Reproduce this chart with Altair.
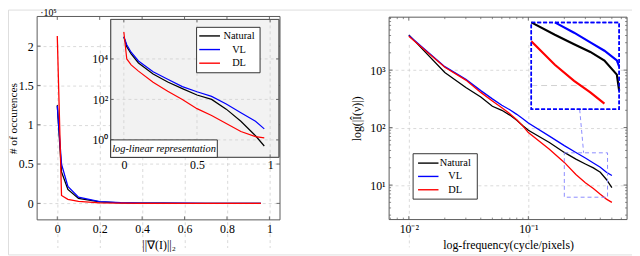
import altair as alt
import pandas as pd

# ---------------- data ----------------
SERIES = ["Natural", "VL", "DL"]
COLORS = ["#000000", "#0000ff", "#ff0000"]

# left panel: histogram of gradient norm (counts)
grad_x = [0, 0.02, 0.05, 0.1, 0.2, 0.3, 0.4, 0.5, 0.6, 0.7, 0.8, 0.9, 0.96]
grad_natural = [125000, 40000, 17800, 6300, 1820, 720, 340, 166, 100, 33, 8.3, 1.6, 0.5]
grad_vl = [124000, 50000, 21400, 7900, 2340, 1000, 430, 240, 141, 60, 22, 8.3, 3.5]
grad_dl = [213000, 10000, 5100, 2500, 710, 250, 100, 35, 16, 6.5, 2.6, 1.45, 1.25]

# right panel: amplitude spectrum
freq_x = [0.01, 0.02, 0.03, 0.04, 0.05, 0.06, 0.07, 0.08, 0.09, 0.1,
          0.15, 0.2, 0.25, 0.3, 0.35, 0.4, 0.45, 0.5]
freq_natural = [4100, 910, 500, 340, 235, 200, 165, 134, 108, 90,
                55, 37, 28.3, 23.3, 19.9, 16.7, 12.5, 9.0]
freq_vl = [4000, 1150, 690, 440, 316, 245, 204, 170, 143, 120,
           71, 48.6, 36.9, 29.5, 24.2, 20.4, 16.7, 14.7]
freq_dl = [3900, 1120, 670, 410, 290, 221, 174, 137, 106, 82,
           42, 24.8, 15.3, 11, 8.7, 6.9, 5.7, 5.0]

left_x_ticks = [0, 0.2, 0.4, 0.6, 0.8, 1]
left_y_ticks = [0, 50000, 100000, 150000, 200000]
inset_x_ticks = [0, 0.5, 1]
inset_y_ticks = [1, 100, 10000]
right_x_ticks = [0.01, 0.1]
right_y_ticks = [10, 100, 1000]
right_x_minor = [0.007, 0.008, 0.009, 0.02, 0.03, 0.04, 0.05, 0.06, 0.07, 0.08, 0.09,
                 0.2, 0.3, 0.4, 0.5, 0.6]
right_y_minor = [3, 4, 5, 6, 7, 8, 9, 20, 30, 40, 50, 60, 70, 80, 90,
                 200, 300, 400, 500, 600, 700, 800, 900, 2000, 3000, 4000, 5000, 6000, 7000, 8000]
spy_x = [0.2, 0.46]
spy_y = [6.15, 36.4]

# ---------------- tables ----------------
grad_df = pd.DataFrame({
    "g": grad_x * 3,
    "count": grad_natural + grad_vl + grad_dl,
    "series": [s for s in SERIES for _ in grad_x],
})
freq_df = pd.DataFrame({
    "f": freq_x * 3,
    "v": freq_natural + freq_vl + freq_dl,
    "series": [s for s in SERIES for _ in freq_x],
})
legend_df = pd.DataFrame({"series": SERIES})
spy_df = pd.DataFrame({"x0": [spy_x[0]], "x1": [spy_x[1]], "y0": [spy_y[0]], "y1": [spy_y[1]]})
spy_grid_df = pd.DataFrame({"v": [t for t in right_y_ticks if spy_y[0] <= t <= spy_y[1]]})
one = pd.DataFrame({"k": [0]})

# ---------------- layout (pixels in chart coords) ----------------
W, H = 632, 248
FONT = "Liberation Serif"
FRAME = "#595959"
GRID = "#d0d0d0"

LF = (29.5, 275.5, 7.0, 213.0)      # left main frame x0,x1,y0,y1
IF = (104.0, 274.5, 10.0, 149.7)    # inset frame
RF = (386.0, 627.0, 7.7, 212.7)     # right frame
MB = (530.0, 619.0, 13.0, 101.0)    # magnified box


def sc(**kw):
    return alt.Scale(nice=False, zero=False, **kw)


LX = sc(domain=[-0.095, 1.05], range=[LF[0], LF[1]])
LY = sc(domain=[-21000, 237700], range=[LF[3], LF[2]])
IX = sc(domain=[-0.0899, 1.0608], range=[IF[0], IF[1]])
IY = sc(type="log", domain=[0.137, 893000], range=[IF[3], IF[2]])
RX = sc(type="log", domain=[0.00684, 0.670], range=[RF[0], RF[1]])
RY = sc(type="log", domain=[2.51, 8340], range=[RF[3], RF[2]])
MX = sc(type="log", domain=spy_x, range=[MB[0], MB[1]], clamp=True)
MY = sc(type="log", domain=spy_y, range=[MB[3], MB[2]], clamp=True)

color_enc = alt.Color("series:N", scale=alt.Scale(domain=SERIES, range=COLORS), legend=None)

AX = dict(labelFont=FONT, labelFontSize=12, titleFont=FONT, titleFontSize=12,
          titleFontWeight="normal", labelColor="black", titleColor="black",
          ticks=False, tickSize=0, domain=False, labelFlush=False, labelOverlap=False,
          gridColor=GRID, gridDash=[3, 3], gridWidth=0.8)


def box(frame, fill=None, stroke=FRAME, width=1.0, dash=None):
    x0, x1, y0, y1 = frame
    kw = dict(stroke=stroke, strokeWidth=width)
    if fill is None:
        kw["fill"] = "white"
        kw["fillOpacity"] = 0
    else:
        kw["fill"] = fill
    if dash:
        kw["strokeDash"] = dash
    return alt.Chart(one).mark_rect(**kw).encode(
        x=alt.value(x0), x2=alt.value(x1), y=alt.value(y0), y2=alt.value(y1))


def frame_ticks(xvals, yvals, xs, ys, frame, length=3.5, width=0.9):
    x0, x1, y0, y1 = frame
    out = []
    xd = pd.DataFrame({"t": xvals})
    yd = pd.DataFrame({"t": yvals})
    for ya, yb in ((y1, y1 - length), (y0, y0 + length)):
        out.append(alt.Chart(xd).mark_rule(color=FRAME, strokeWidth=width).encode(
            x=alt.X("t:Q", scale=xs, axis=None), y=alt.value(ya), y2=alt.value(yb)))
    for xa, xb in ((x0, x0 + length), (x1, x1 - length)):
        out.append(alt.Chart(yd).mark_rule(color=FRAME, strokeWidth=width).encode(
            y=alt.Y("t:Q", scale=ys, axis=None), x=alt.value(xa), x2=alt.value(xb)))
    return out


def legend_layers(frame, sw0, sw1, labx, yfirst, ylast):
    ysc = alt.Scale(type="point", domain=SERIES, range=[yfirst, ylast], padding=0)
    sw = alt.Chart(legend_df).mark_rule(strokeWidth=1.4).encode(
        x=alt.value(sw0), x2=alt.value(sw1),
        y=alt.Y("series:N", scale=ysc, axis=None), color=color_enc)
    tx = alt.Chart(legend_df).mark_text(font=FONT, fontSize=10.5, align="center",
                                        baseline="middle", color="black").encode(
        x=alt.value(labx), y=alt.Y("series:N", scale=ysc, axis=None), text="series:N")
    return [box(frame, fill="white", stroke="#333333"), sw, tx]


layers = []

# ---- left main ----
layers.append(alt.Chart(grad_df).mark_line(strokeWidth=1.3).encode(
    x=alt.X("g:Q", scale=LX, axis=alt.Axis(
        orient="bottom", offset=LF[3] - H, values=left_x_ticks, format="~g",
        title="||∇(I)||₂", grid=True, labelPadding=4, titlePadding=5, **AX)),
    y=alt.Y("count:Q", scale=LY, axis=alt.Axis(
        orient="left", offset=-LF[0], values=left_y_ticks,
        labelExpr="format(datum.value / 100000, '~g')",
        title="# of occurences", grid=True, labelPadding=4,
        titleX=-24, titleY=(LF[2] + LF[3]) / 2, titleBaseline="middle",
        titleAlign="center", titleAngle=270, **{**AX, "titleFontSize": 11.5})),
    color=color_enc))
layers += frame_ticks(left_x_ticks, left_y_ticks, LX, LY, LF)

# ---- inset ----
layers.append(box(IF, fill="#f2f2f2", stroke=FRAME))
layers.append(alt.Chart(pd.DataFrame({"v": inset_x_ticks})).mark_rule(
    color=GRID, strokeDash=[3, 3], strokeWidth=0.8).encode(
    x=alt.X("v:Q", scale=IX, axis=None), y=alt.value(IF[2]), y2=alt.value(IF[3])))
layers.append(alt.Chart(pd.DataFrame({"v": inset_y_ticks})).mark_rule(
    color=GRID, strokeDash=[3, 3], strokeWidth=0.8).encode(
    y=alt.Y("v:Q", scale=IY, axis=None), x=alt.value(IF[0]), x2=alt.value(IF[1])))
layers.append(alt.Chart(grad_df).mark_line(strokeWidth=1.2).encode(
    x=alt.X("g:Q", scale=IX, axis=alt.Axis(
        orient="bottom", offset=IF[3] - H, values=inset_x_ticks, format="~g",
        title=None, grid=False, labelPadding=2, **AX)),
    y=alt.Y("count:Q", scale=IY, axis=alt.Axis(
        orient="left", offset=-IF[0], values=inset_y_ticks,
        labelExpr="datum.value < 10 ? '10⁰' : datum.value < 1000 ? '10²' : '10⁴'",
        title=None, grid=False, labelPadding=3, **AX)),
    color=color_enc))
layers += frame_ticks(inset_x_ticks, inset_y_ticks, IX, IY, IF, length=3)
layers.append(box(IF, stroke=FRAME))
layers += legend_layers((191.0, 255.3, 18.0, 64.0), 193.7, 214.7, 234.0, 26.7, 54.3)
layers.append(box((IF[0], 212.0, 132.0, IF[3]), fill="white", stroke="#333333"))
layers.append(alt.Chart(one).mark_text(font=FONT, fontSize=10.5, fontStyle="italic",
                                       align="center", baseline="middle").encode(
    x=alt.value(158.0), y=alt.value(141.0), text=alt.value("log-linear representation")))
layers.append(box(LF, stroke=FRAME))
layers.append(alt.Chart(one).mark_text(font=FONT, fontSize=10, align="center",
                                       baseline="top").encode(
    x=alt.value(41.0), y=alt.value(-1.5), text=alt.value("·10⁵")))

# ---- right ----
layers.append(alt.Chart(freq_df).mark_line(strokeWidth=1.3).encode(
    x=alt.X("f:Q", scale=RX, axis=alt.Axis(
        orient="bottom", offset=RF[3] - H, values=right_x_ticks,
        labelExpr="datum.value < 0.05 ? '10⁻²' : '10⁻¹'",
        title="log-frequency(cycle/pixels)", grid=True, labelPadding=4,
        titlePadding=5, **AX)),
    y=alt.Y("v:Q", scale=RY, axis=alt.Axis(
        orient="left", offset=-RF[0], values=right_y_ticks,
        labelExpr="datum.value < 50 ? '10¹' : datum.value < 500 ? '10²' : '10³'",
        title="log(|Î(ν)|)", grid=True, labelPadding=4, titlePadding=6, **AX)),
    color=color_enc))
layers += frame_ticks(right_x_ticks, right_y_ticks, RX, RY, RF, length=3.5)
layers += frame_ticks(right_x_minor, right_y_minor, RX, RY, RF, length=2, width=0.7)
layers.append(alt.Chart(spy_df).mark_rect(fill="white", fillOpacity=0, stroke="#8c8cff",
                                          strokeWidth=1, strokeDash=[4, 3]).encode(
    x=alt.X("x0:Q", scale=RX, axis=None), x2="x1:Q",
    y=alt.Y("y0:Q", scale=RY, axis=None), y2="y1:Q"))
layers.append(alt.Chart(one).mark_rule(color="#8c8cff", strokeWidth=1, strokeDash=[4, 3]).encode(
    x=alt.value(579.0), x2=alt.value(583.0), y=alt.value(MB[3]), y2=alt.value(145.0)))
layers.append(box(MB, fill="white", stroke="#0000ff", width=1.5, dash=[4, 2]))
layers.append(alt.Chart(spy_grid_df).mark_rule(color=GRID, strokeDash=[6, 4], strokeWidth=1).encode(
    y=alt.Y("v:Q", scale=MY, axis=None), x=alt.value(MB[0]), x2=alt.value(MB[1])))
layers.append(alt.Chart(freq_df).transform_filter(
    f"datum.f >= {spy_x[0]} && datum.v >= {spy_y[0] * 0.97} && datum.v <= {spy_y[1] * 1.02}"
).mark_line(strokeWidth=2.2).encode(
    x=alt.X("f:Q", scale=MX, axis=None),
    y=alt.Y("v:Q", scale=MY, axis=None),
    color=color_enc))
layers.append(box(MB, stroke="#0000ff", width=1.5, dash=[4, 2]))
layers += legend_layers((410.3, 475.3, 146.0, 192.0), 415.3, 436.0, 453.0, 155.5, 182.5)
layers.append(box(RF, stroke=FRAME))

chart = alt.layer(*layers).resolve_scale(
    x="independent", y="independent"
).properties(
    width=W, height=H, padding=0,
    autosize=alt.AutoSizeParams(type="none"),
).configure_view(stroke=None).configure(background="white")

chart.save("out.html", embed_options={"renderer": "svg", "actions": False})
